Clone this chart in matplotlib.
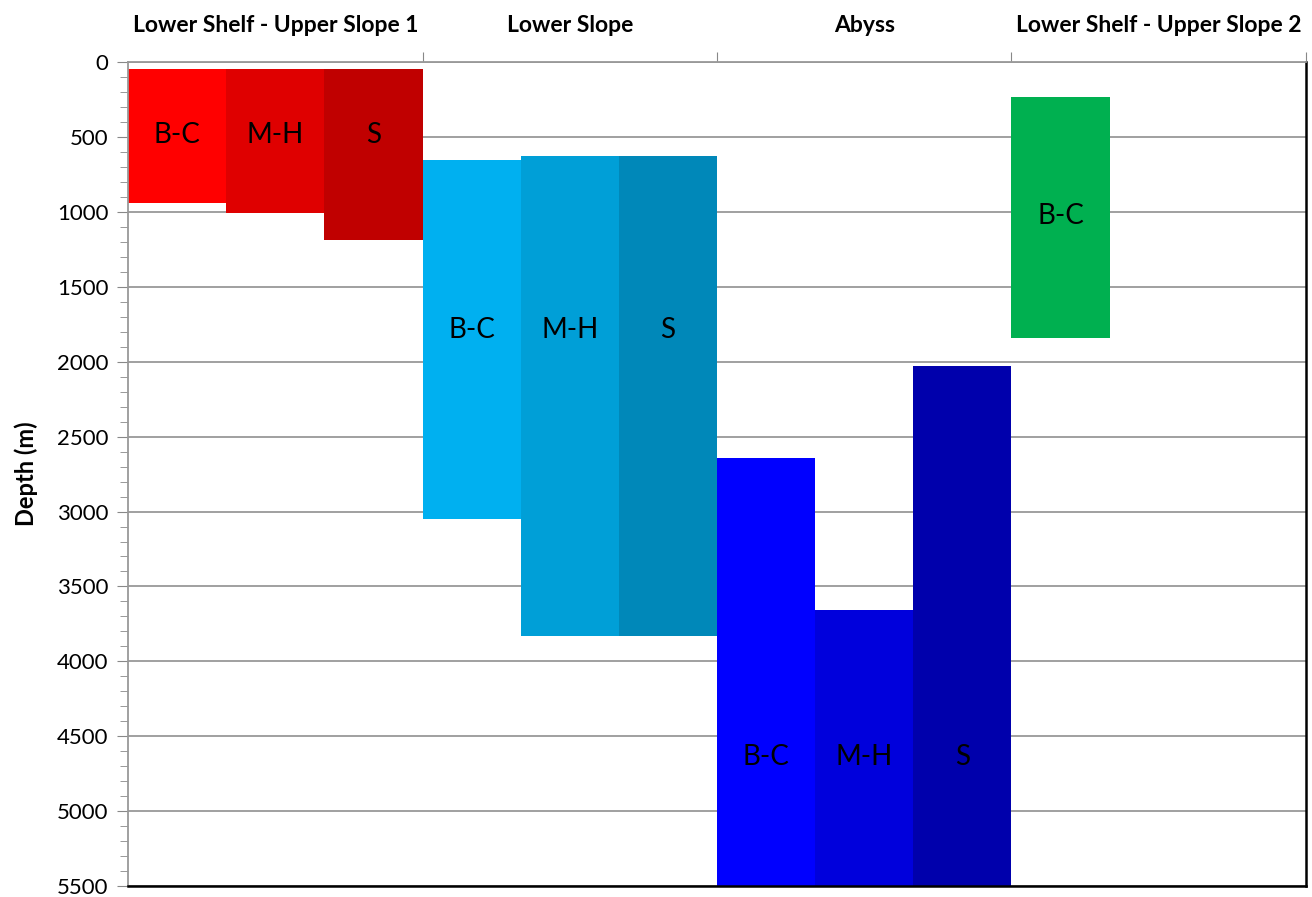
import matplotlib.pyplot as plt
from matplotlib.ticker import MultipleLocator

plt.rcParams['font.family'] = ['Lato', 'DejaVu Sans']

# depth ranges (m) for each zone, one bar per taxon
zones = ['Lower Shelf - Upper Slope 1', 'Lower Slope', 'Abyss', 'Lower Shelf - Upper Slope 2']
taxa = ['B-C', 'M-H', 'S']

shelf1_top = [50, 50, 50]
shelf1_bottom = [940, 1010, 1185]
slope_top = [655, 628, 628]
slope_bottom = [3050, 3830, 3830]
abyss_top = [2645, 3655, 2030]
abyss_bottom = [5500, 5500, 5500]
shelf2_top = [235]
shelf2_bottom = [1845]

# depth where the taxon labels sit in each zone
label_depth = [490, 1790, 4640, 1025]

colors = [
    ['#FF0000', '#DF0000', '#C00000'],
    ['#00B0F0', '#009FD7', '#0088B9'],
    ['#0000FF', '#0000DC', '#0000AC'],
    ['#00B050'],
]

tops = [shelf1_top, slope_top, abyss_top, shelf2_top]
bottoms = [shelf1_bottom, slope_bottom, abyss_bottom, shelf2_bottom]

fig = plt.figure(figsize=(13.12, 8.97), dpi=100)
ax = fig.add_axes([0.0976, 0.012, 0.8978, 0.919])

for g in range(len(zones)):
    for i, (t, b) in enumerate(zip(tops[g], bottoms[g])):
        x = g * 3 + i
        ax.bar(x, b - t, bottom=t, width=1.0, color=colors[g][i], zorder=2)
        ax.text(x, label_depth[g], taxa[i], ha='center', va='center',
                fontsize=20, color='black', zorder=3)

ax.set_xlim(-0.5, 11.5)
ax.set_ylim(5500, 0)

# y axis
ax.yaxis.set_major_locator(MultipleLocator(500))
ax.yaxis.set_minor_locator(MultipleLocator(100))
ax.tick_params(axis='y', which='major', labelsize=16, length=8, color='#888888', pad=6)
ax.tick_params(axis='y', which='minor', length=6, color='#888888')
ax.grid(axis='y', which='major', color='#999999', linewidth=1.3, zorder=0)
ax.set_ylabel('Depth (m)', fontsize=17, fontweight='bold', labelpad=14)

# zone names along the top
ax.xaxis.tick_top()
ax.set_xticks([2.5, 5.5, 8.5, 11.5])
ax.set_xticklabels([])
ax.set_xticks([1, 4, 7, 10], minor=True)
ax.set_xticklabels(zones, minor=True, fontsize=16.5, fontweight='bold')
ax.tick_params(axis='x', which='major', length=7, color='#888888', direction='out')
ax.tick_params(axis='x', which='minor', length=0, pad=19)

for s in ['top', 'left']:
    ax.spines[s].set_color('#999999')
    ax.spines[s].set_linewidth(1.3)
for s in ['right', 'bottom']:
    ax.spines[s].set_color('black')
    ax.spines[s].set_linewidth(1.8)

fig.savefig('out.png', dpi=100)
